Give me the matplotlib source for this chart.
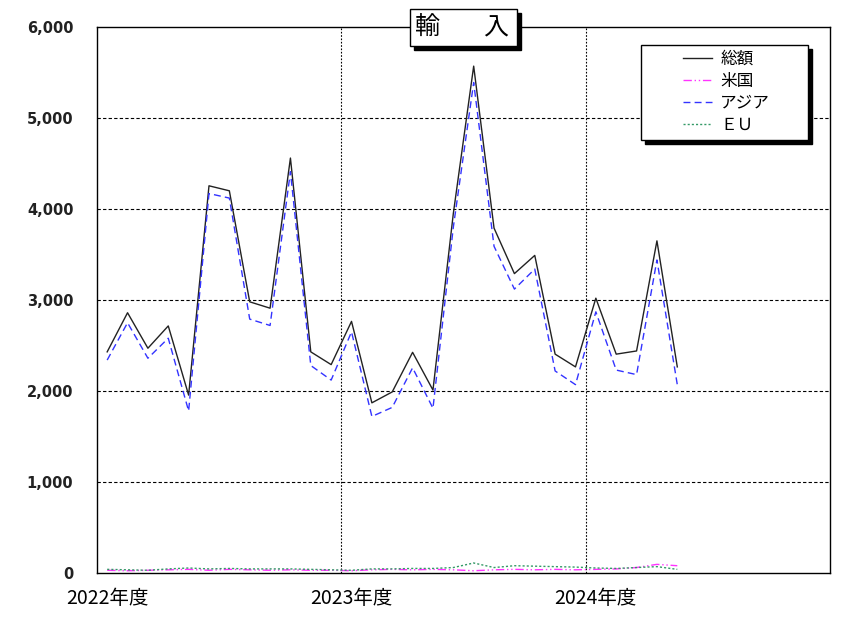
import matplotlib
matplotlib.use('Agg')
import matplotlib.pyplot as plt
from matplotlib.patches import Rectangle
from matplotlib.legend_handler import HandlerLine2D

plt.rcParams['font.family'] = ['Noto Sans CJK JP', 'DejaVu Sans']

# monthly values, Apr 2022 - Aug 2024
total = [2430, 2860, 2470, 2715, 1955, 4255, 4200, 2980, 2910, 4560, 2430, 2290,
         2765, 1870, 1990, 2425, 2010, 3950, 5570, 3790, 3290, 3490, 2405, 2265,
         3020, 2405, 2440, 3650, 2265]
asia = [2340, 2750, 2360, 2580, 1780, 4170, 4120, 2790, 2720, 4410, 2280, 2120,
        2650, 1720, 1820, 2255, 1810, 3800, 5390, 3590, 3120, 3340, 2220, 2070,
        2870, 2230, 2180, 3440, 2070]
usa = [30, 25, 30, 35, 40, 30, 40, 35, 30, 35, 30, 30,
       25, 35, 40, 35, 40, 35, 25, 35, 40, 35, 40, 35,
       40, 45, 60, 95, 80]
eu = [40, 35, 30, 45, 55, 45, 50, 45, 45, 45, 40, 35,
      30, 45, 45, 50, 50, 60, 110, 60, 80, 75, 70, 65,
      55, 50, 60, 70, 40]
year_labels = ['2022年度', '2023年度', '2024年度']

W, H = 868, 620
fig = plt.figure(figsize=(W/100, H/100), dpi=100)
ax = fig.add_axes([97/W, 1-573/H, (830-97)/W, (573-27)/H])

x = list(range(len(total)))
ax.plot(x, total, color='#222222', lw=1.0, label='総額')
ax.plot(x, usa, color='#ff33ff', lw=1.0, ls=(0, (6, 2, 1, 2, 1, 2)), label='米国')
ax.plot(x, asia, color='#3333ff', lw=1.0, ls=(0, (5, 3)), label='アジア')
ax.plot(x, eu, color='#339966', lw=1.0, ls=(0, (1.5, 1.5)), label='ＥＵ')

ax.set_xlim(-0.5, 35.5)
ax.set_ylim(0, 6000)
ax.set_yticks(range(0, 6001, 1000))
ax.set_yticklabels([f'{v:,}' for v in range(0, 6001, 1000)],
                   fontfamily='DejaVu Sans', fontsize=10.5, fontweight='bold', color='#222222')
ax.set_xticks([0, 12, 24])
ax.set_xticklabels(year_labels, fontsize=14)
ax.tick_params(axis='y', length=0, pad=17)
ax.tick_params(axis='x', length=0, pad=11)

for v in range(1000, 6000, 1000):
    ax.axhline(v, color='black', lw=0.8, ls=(0, (3, 2)), zorder=0)
for v in [11.5, 23.5]:
    ax.axvline(v, color='black', lw=0.8, ls=(0, (1.5, 1.5)), zorder=0)
for s in ax.spines.values():
    s.set_linewidth(1.0)

# title box with shadow
def fbox(x0, y0, x1, y1, fc, z):
    fig.patches.append(Rectangle((x0/W, 1-y1/H), (x1-x0)/W, (y1-y0)/H,
                                 transform=fig.transFigure, fc=fc,
                                 ec='black', lw=1, zorder=z))

fbox(414, 13, 521, 50, 'black', 5)
fbox(410, 9, 517, 46, 'white', 6)
fig.text(427/W, 1-28/H, '輸', ha='center', va='center', fontsize=18, zorder=7)
fig.text(496/W, 1-28/H, '入', ha='center', va='center', fontsize=18, zorder=7)


# legend handles start a bit in from the left border
class OffsetLine(HandlerLine2D):
    def create_artists(self, legend, orig_handle, xdescent, ydescent, width, height,
                       fontsize, trans):
        off = 26
        return super().create_artists(legend, orig_handle, xdescent - off, ydescent,
                                      width - off, height, fontsize, trans)


lx0 = (641 - 97) / 733
lx1 = (808 - 97) / 733
ltop = (573 - 45) / 546
leg = ax.legend(loc='upper left', bbox_to_anchor=(lx0, ltop - 0.2, lx1 - lx0, 0.2),
                mode='expand', fontsize=12, frameon=True, fancybox=False,
                shadow={'color': 'black', 'alpha': 1, 'ox': 3, 'oy': -3},
                edgecolor='black', handlelength=3.9, borderpad=0.35,
                labelspacing=0.3, handletextpad=0.5, borderaxespad=0,
                handler_map={plt.Line2D: OffsetLine()})
leg.get_frame().set_linewidth(1.0)

fig.savefig('out.png', dpi=100)
